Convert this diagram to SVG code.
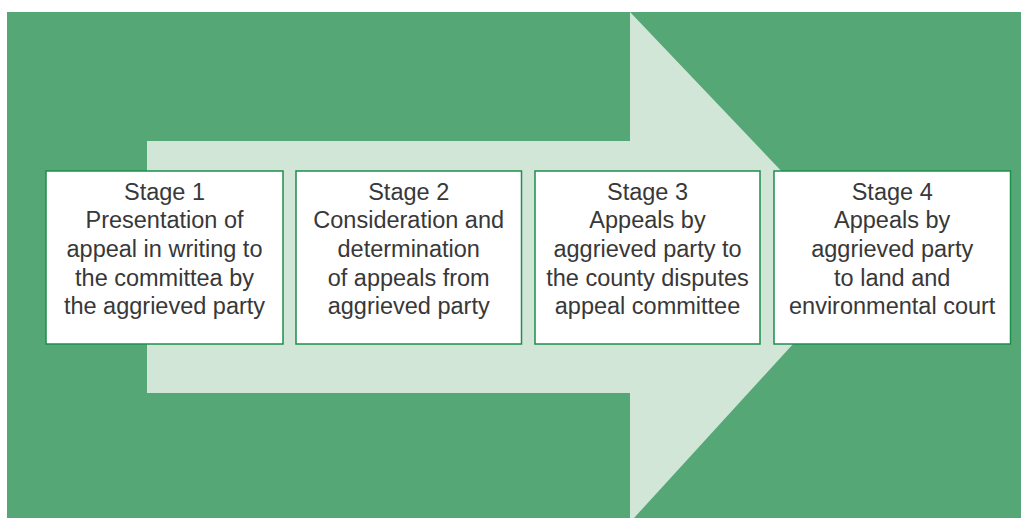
<svg xmlns="http://www.w3.org/2000/svg" width="1024" height="518" viewBox="0 0 1024 518">
<style>
.box{fill:#ffffff;stroke:#1b8f4c;stroke-width:1.5}
.t{font-family:"Liberation Sans",Arial,sans-serif;font-size:23.5px;fill:#383838;text-anchor:middle}
</style>
<rect x="0" y="0" width="1024" height="518" fill="#ffffff"/>
<g id="background">
<rect x="7" y="12" width="1014" height="506" fill="#55a876"/>
<polygon points="147,141 630,141 630,12 868,262 634,518 630,518 630,393 147,393" fill="#d2e6d8"/>
</g>
<g id="connectors"></g>
<g id="stage1">
<rect class="box" x="46" y="171" width="237" height="173"/>
<text class="t"><tspan x="164.5" y="199.5">Stage 1</tspan><tspan x="164.5" y="228">Presentation of</tspan><tspan x="164.5" y="257">appeal in writing to</tspan><tspan x="164.5" y="285.5">the committea by</tspan><tspan x="164.5" y="314">the aggrieved party</tspan></text>
</g>
<g id="stage2">
<rect class="box" x="296" y="171" width="225.5" height="173"/>
<text class="t"><tspan x="408.7" y="199.5">Stage 2</tspan><tspan x="408.7" y="228">Consideration and</tspan><tspan x="408.7" y="257">determination</tspan><tspan x="408.7" y="285.5">of appeals from</tspan><tspan x="408.7" y="314">aggrieved party</tspan></text>
</g>
<g id="stage3">
<rect class="box" x="535" y="171" width="225" height="173"/>
<text class="t"><tspan x="647.5" y="199.5">Stage 3</tspan><tspan x="647.5" y="228">Appeals by</tspan><tspan x="647.5" y="257">aggrieved party to</tspan><tspan x="647.5" y="285.5">the county disputes</tspan><tspan x="647.5" y="314">appeal committee</tspan></text>
</g>
<g id="stage4">
<rect class="box" x="774" y="171" width="236.5" height="173"/>
<text class="t"><tspan x="892.2" y="199.5">Stage 4</tspan><tspan x="892.2" y="228">Appeals by</tspan><tspan x="892.2" y="257">aggrieved party</tspan><tspan x="892.2" y="285.5">to land and</tspan><tspan x="892.2" y="314">environmental court</tspan></text>
</g>
</svg>
